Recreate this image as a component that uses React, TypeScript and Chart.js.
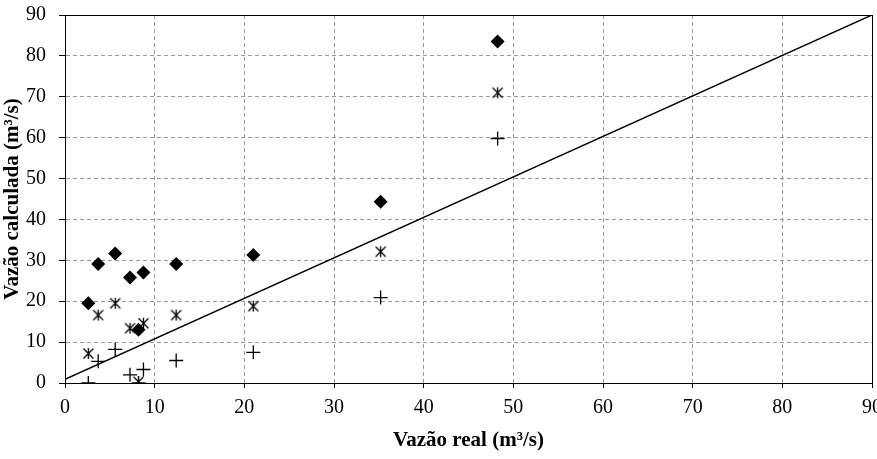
import React, { useEffect, useRef } from "react";
import { Chart, registerables } from "chart.js";

Chart.register(...registerables);

const realFlow = [2.6, 3.7, 5.6, 7.25, 8.2, 8.75, 12.4, 21.0, 35.2, 48.25];
const seriesDiamond = [19.5, 29.1, 31.7, 25.8, 13.0, 27.0, 29.1, 31.3, 44.3, 83.5];
const seriesStar = [7.2, 16.6, 19.5, 13.4, 0.3, 14.6, 16.6, 18.8, 32.1, 71.0];
const seriesPlus = [0.0, 5.3, 8.2, 2.0, 0.0, 3.3, 5.5, 7.5, 20.9, 59.8];
const lineX = [0, 90];
const lineY = [0.9, 90];
const tickValues = [0, 10, 20, 30, 40, 50, 60, 70, 80, 90];

function makeStar(): HTMLCanvasElement {
  const c = document.createElement("canvas");
  const s = 13;
  c.width = s;
  c.height = s;
  const ctx = c.getContext("2d")!;
  ctx.strokeStyle = "#000";
  ctx.lineWidth = 1.3;
  const h = 5;
  const m = s / 2;
  ctx.beginPath();
  ctx.moveTo(m - h, m - h);
  ctx.lineTo(m + h, m + h);
  ctx.moveTo(m + h, m - h);
  ctx.lineTo(m - h, m + h);
  ctx.moveTo(m, m - h - 0.5);
  ctx.lineTo(m, m + h + 0.5);
  ctx.stroke();
  return c;
}

const framePlugin = {
  id: "frame",
  beforeDatasetsDraw(chart: any) {
    const { ctx, chartArea } = chart;
    ctx.save();
    ctx.strokeStyle = "#000";
    ctx.lineWidth = 1;
    ctx.setLineDash([]);
    ctx.strokeRect(
      Math.round(chartArea.left) + 0.5,
      Math.round(chartArea.top) + 0.5,
      Math.round(chartArea.right - chartArea.left),
      Math.round(chartArea.bottom - chartArea.top)
    );
    ctx.restore();
  },
};

export default function App() {
  const ref = useRef<HTMLCanvasElement | null>(null);

  useEffect(() => {
    document.body.style.margin = "0";
    const canvas = ref.current!;
    const star = makeStar();
    const tickFont = { family: "'Liberation Serif', 'Times New Roman', serif", size: 20 };
    const titleFont = { family: "'Liberation Serif', 'Times New Roman', serif", size: 21, weight: "bold" as const };

    const chart = new Chart(canvas, {
      type: "scatter",
      data: {
        datasets: [
          {
            label: "Diamond",
            data: realFlow.map((x, i) => ({ x, y: seriesDiamond[i] })),
            pointStyle: "rectRot",
            pointRadius: 7,
            backgroundColor: "#000",
            borderColor: "#000",
            borderWidth: 0,
          },
          {
            label: "Star",
            data: realFlow.map((x, i) => ({ x, y: seriesStar[i] })),
            pointStyle: star as any,
            pointRadius: 6,
            backgroundColor: "#000",
            borderColor: "#000",
          },
          {
            label: "Plus",
            data: realFlow.map((x, i) => ({ x, y: seriesPlus[i] })),
            pointStyle: "cross",
            pointRadius: 7,
            borderWidth: 1.3,
            backgroundColor: "#000",
            borderColor: "#000",
          },
          {
            label: "Line",
            data: lineX.map((x, i) => ({ x, y: lineY[i] })),
            showLine: true,
            pointRadius: 0,
            borderColor: "#000",
            borderWidth: 1.5,
          },
        ],
      },
      options: {
        responsive: false,
        animation: false,
        layout: { autoPadding: false, padding: { top: 15, right: 5, left: 0, bottom: 0 } },
        plugins: {
          legend: { display: false },
          tooltip: { enabled: false },
        },
        scales: {
          x: {
            type: "linear",
            min: 0,
            max: 90,
            afterBuildTicks: (s: any) => {
              s.ticks = tickValues.map((v) => ({ value: v }));
            },
            afterFit: (s: any) => {
              s.height = 76;
              s.paddingLeft = 0;
              s.paddingRight = 0;
            },
            ticks: {
              color: "#000",
              font: tickFont,
              padding: 8,
              maxRotation: 0,
              autoSkip: false,
            },
            grid: {
              color: "#999999",
              lineWidth: 1,
              tickColor: "#000",
              tickLength: 5,
              tickBorderDash: [],
            } as any,
            border: { display: true, color: "#000", width: 1, dash: [4, 3] },
            title: {
              display: true,
              text: "Vazão real (m³/s)",
              color: "#000",
              font: titleFont,
              padding: { top: 6, bottom: 6 },
            },
          },
          y: {
            type: "linear",
            min: 0,
            max: 90,
            afterBuildTicks: (s: any) => {
              s.ticks = tickValues.map((v) => ({ value: v }));
            },
            afterFit: (s: any) => {
              s.width = 65;
              s.paddingTop = 0;
              s.paddingBottom = 0;
            },
            ticks: {
              color: "#000",
              font: tickFont,
              padding: 13,
              autoSkip: false,
            },
            grid: {
              color: "#999999",
              lineWidth: 1,
              tickColor: "#000",
              tickLength: 6,
              tickBorderDash: [],
            } as any,
            border: { display: true, color: "#000", width: 1, dash: [4, 3] },
            title: {
              display: true,
              text: "Vazão calculada (m³/s)",
              color: "#000",
              font: titleFont,
              padding: { top: 0, bottom: 0 },
            },
          },
        },
      },
      plugins: [framePlugin],
    });
    return () => chart.destroy();
  }, []);

  return <canvas ref={ref} width={877} height={459} style={{ display: "block" }} />;
}
